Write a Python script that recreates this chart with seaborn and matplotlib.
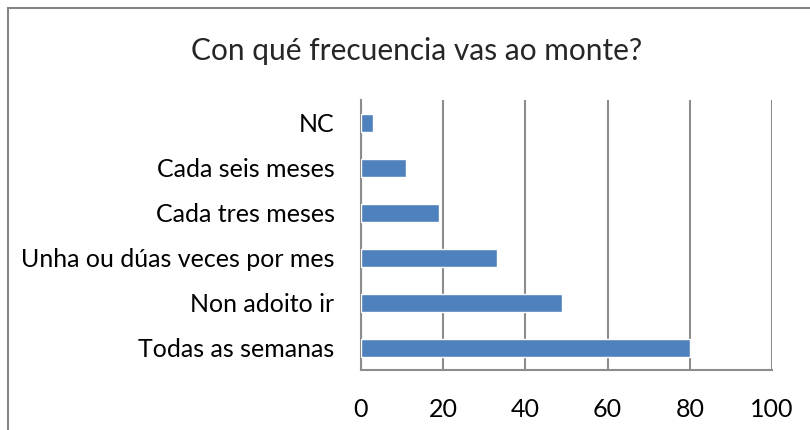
import matplotlib
matplotlib.use("Agg")
import matplotlib.pyplot as plt
import seaborn as sns
import pandas as pd

# Datos
categorias = ["NC", "Cada seis meses", "Cada tres meses", "Unha ou dúas veces por mes",
              "Non adoito ir", "Todas as semanas"]
valores = [3, 11, 19, 33, 49, 80]
ticks_x = [0, 20, 40, 60, 80, 100]

df = pd.DataFrame({"Categoria": categorias, "Valor": valores})

sns.set_style("white")
plt.rcParams['font.family'] = ['Lato', 'DejaVu Sans']

fig = plt.figure(figsize=(8.1, 4.3), dpi=100)
ax = fig.add_axes([361 / 810, 1 - 370 / 430, 411 / 810, 270 / 430])

sns.barplot(data=df, x="Valor", y="Categoria", order=categorias, color="#4F81BD",
            saturation=1, width=0.4, ax=ax, zorder=3)

ax.set_xlim(0, 100)
ax.set_xticks(ticks_x)
ax.xaxis.grid(True, color="#8c8c8c", linewidth=1.5)
ax.set_axisbelow(True)
ax.set_xlabel("")
ax.set_ylabel("")
ax.tick_params(axis="both", length=0, labelsize=18, colors="black")
ax.tick_params(axis="x", pad=20)
ax.tick_params(axis="y", pad=19)
for s in ["top", "right"]:
    ax.spines[s].set_visible(False)
for s in ["left", "bottom"]:
    ax.spines[s].set_color("#8c8c8c")
    ax.spines[s].set_linewidth(1.5)

fig.text(417 / 810, 1 - 51 / 430, "Con qué frecuencia vas ao monte?", ha="center", va="center",
         fontsize=21.5)

# Marco exterior
marco = plt.Rectangle((8 / 810, -0.1), 1.2, 1 - 8 / 430 + 0.1, transform=fig.transFigure,
                      fill=False, edgecolor="#868686", linewidth=1.5)
fig.patches.append(marco)

fig.savefig("out.png", dpi=100)
